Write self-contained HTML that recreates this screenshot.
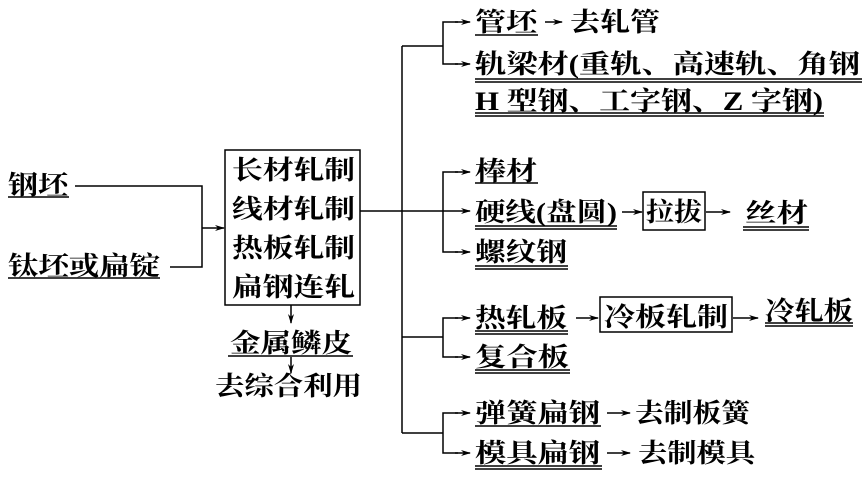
<!DOCTYPE html>
<html><head><meta charset="utf-8"><style>
html,body{margin:0;padding:0;background:#fff;}
svg{display:block}
text{font-family:"Liberation Serif","Noto Serif CJK SC",serif;font-weight:bold;font-size:26px;fill:#000;}
</style></head><body>
<svg width="864" height="477" viewBox="0 0 864 477" xmlns="http://www.w3.org/2000/svg">
<defs>
<marker id="a" markerWidth="10" markerHeight="8" refX="9" refY="4" orient="auto" markerUnits="userSpaceOnUse">
<path d="M0,1 L10,4 L0,7 L3,4 Z" fill="#000"/></marker>
</defs>
<g stroke="#000" stroke-width="1.5" fill="none">
<polyline points="75,186 202,186 202,267 170,267"/>
<line x1="202" y1="228" x2="224" y2="228" marker-end="url(#a)"/>
<rect x="225" y="150" width="135" height="155"/>
<line x1="291" y1="305" x2="291" y2="323" marker-end="url(#a)"/>
<line x1="291" y1="357" x2="291" y2="373" marker-end="url(#a)"/>
<line x1="360" y1="211" x2="443" y2="211"/>
<line x1="402" y1="46" x2="402" y2="433"/>
<line x1="402" y1="46" x2="443" y2="46"/>
<line x1="402" y1="337" x2="443" y2="337"/>
<line x1="402" y1="433" x2="443" y2="433"/>
<polyline points="458,22 443,22 443,64 458,64"/>
<polyline points="458,172 443,172 443,252 458,252"/>
<polyline points="458,318 443,318 443,357 458,357"/>
<polyline points="458,413 443,413 443,453 458,453"/>
<g marker-end="url(#a)">
<line x1="455" y1="22" x2="470" y2="22"/>
<line x1="455" y1="64" x2="470" y2="64"/>
<line x1="455" y1="172" x2="470" y2="172"/>
<line x1="443" y1="211" x2="470" y2="211"/>
<line x1="455" y1="252" x2="470" y2="252"/>
<line x1="455" y1="318" x2="470" y2="318"/>
<line x1="455" y1="357" x2="470" y2="357"/>
<line x1="455" y1="413" x2="470" y2="413"/>
<line x1="455" y1="453" x2="470" y2="453"/>
<line x1="545" y1="22" x2="562" y2="22"/>
<line x1="622" y1="212" x2="642" y2="212"/>
<line x1="706" y1="212" x2="730" y2="212"/>
<line x1="576" y1="318" x2="598" y2="318"/>
<line x1="733" y1="318" x2="758" y2="318"/>
<line x1="607" y1="413" x2="630" y2="413"/>
<line x1="607" y1="453" x2="630" y2="453"/>
</g>
<rect x="643" y="192" width="62" height="38"/>
<rect x="600" y="297" width="132" height="35"/>
</g>
<g stroke="#000" stroke-width="1.5">
<line x1="8" y1="197" x2="69" y2="197"/>
<line x1="8" y1="278" x2="160" y2="278"/>
<line x1="228" y1="356" x2="353" y2="356"/>
<line x1="475" y1="35" x2="538" y2="35"/>
<line x1="475" y1="79" x2="862" y2="79"/><line x1="475" y1="82" x2="862" y2="82"/>
<line x1="475" y1="113" x2="824" y2="113"/><line x1="475" y1="116" x2="824" y2="116"/>
<line x1="475" y1="183" x2="538" y2="183"/>
<line x1="475" y1="226" x2="617" y2="226"/><line x1="475" y1="229" x2="617" y2="229"/>
<line x1="743" y1="227" x2="809" y2="227"/><line x1="743" y1="230" x2="809" y2="230"/>
<line x1="475" y1="266" x2="568" y2="266"/><line x1="475" y1="269" x2="568" y2="269"/>
<line x1="475" y1="331" x2="568" y2="331"/><line x1="475" y1="334" x2="568" y2="334"/>
<line x1="765" y1="323" x2="853" y2="323"/><line x1="765" y1="326" x2="853" y2="326"/>
<line x1="475" y1="370" x2="570" y2="370"/><line x1="475" y1="373" x2="570" y2="373"/>
<line x1="475" y1="426" x2="601" y2="426"/>
<line x1="475" y1="466" x2="602" y2="466"/><line x1="475" y1="469" x2="602" y2="469"/>
</g>
<text lengthAdjust="spacingAndGlyphs" x="8" y="194" textLength="60">钢坯</text>
<text lengthAdjust="spacingAndGlyphs" x="8" y="275" textLength="152">钛坯或扁锭</text>
<text lengthAdjust="spacingAndGlyphs" x="232" y="179" textLength="123">长材轧制</text>
<text lengthAdjust="spacingAndGlyphs" x="232" y="218" textLength="123">线材轧制</text>
<text lengthAdjust="spacingAndGlyphs" x="232" y="257" textLength="123">热板轧制</text>
<text lengthAdjust="spacingAndGlyphs" x="232" y="296" textLength="123">扁钢连轧</text>
<text lengthAdjust="spacingAndGlyphs" x="230" y="352" textLength="122">金属鳞皮</text>
<text lengthAdjust="spacingAndGlyphs" x="215" y="395" textLength="147">去综合利用</text>
<text lengthAdjust="spacingAndGlyphs" x="475" y="31" textLength="62">管坯</text>
<text lengthAdjust="spacingAndGlyphs" x="570" y="31" textLength="90">去轧管</text>
<text lengthAdjust="spacingAndGlyphs" x="475" y="73" textLength="385">轨梁材(重轨、高速轨、角钢</text>
<text lengthAdjust="spacingAndGlyphs" x="475" y="110" textLength="348">H 型钢、工字钢、Z 字钢)</text>
<text lengthAdjust="spacingAndGlyphs" x="475" y="180" textLength="62">棒材</text>
<text lengthAdjust="spacingAndGlyphs" x="475" y="221" textLength="142">硬线(盘圆)</text>
<text lengthAdjust="spacingAndGlyphs" x="646" y="221" textLength="56">拉拔</text>
<text lengthAdjust="spacingAndGlyphs" x="745" y="222" textLength="63">丝材</text>
<text lengthAdjust="spacingAndGlyphs" x="475" y="261" textLength="92">螺纹钢</text>
<text lengthAdjust="spacingAndGlyphs" x="475" y="327" textLength="92">热轧板</text>
<text lengthAdjust="spacingAndGlyphs" x="604" y="326" textLength="124">冷板轧制</text>
<text lengthAdjust="spacingAndGlyphs" x="765" y="320" textLength="88">冷轧板</text>
<text lengthAdjust="spacingAndGlyphs" x="475" y="366" textLength="94">复合板</text>
<text lengthAdjust="spacingAndGlyphs" x="475" y="422" textLength="125">弹簧扁钢</text>
<text lengthAdjust="spacingAndGlyphs" x="635" y="422" textLength="115">去制板簧</text>
<text lengthAdjust="spacingAndGlyphs" x="475" y="462" textLength="125">模具扁钢</text>
<text lengthAdjust="spacingAndGlyphs" x="638" y="462" textLength="117">去制模具</text>
</svg>
</body></html>
